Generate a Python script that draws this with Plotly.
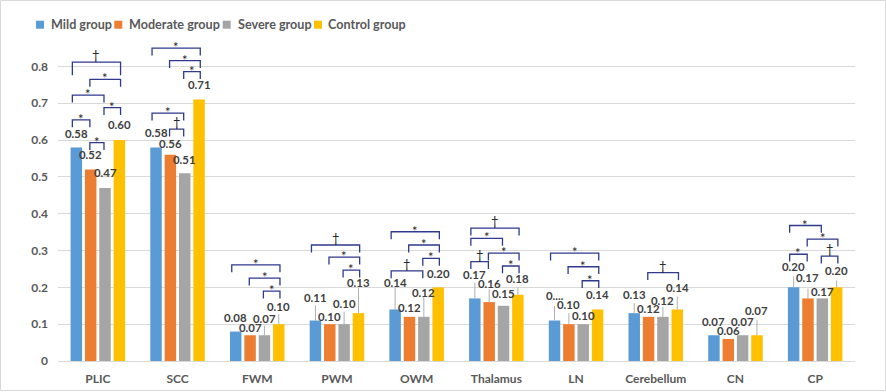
import plotly.graph_objects as go

# ---------------- data ----------------
categories = ["PLIC", "SCC", "FWM", "PWM", "OWM", "Thalamus", "LN", "Cerebellum", "CN", "CP"]
series_names = ["Mild group", "Moderate group", "Severe group", "Control group"]

mild = [0.58, 0.58, 0.08, 0.11, 0.14, 0.17, 0.11, 0.13, 0.07, 0.20]
moderate = [0.52, 0.56, 0.07, 0.10, 0.12, 0.16, 0.10, 0.12, 0.06, 0.17]
severe = [0.47, 0.51, 0.07, 0.10, 0.12, 0.15, 0.10, 0.12, 0.07, 0.17]
control = [0.60, 0.71, 0.10, 0.13, 0.20, 0.18, 0.14, 0.14, 0.07, 0.20]

# upper error bars (visible part)
mild_err = [0, 0, 0, 0.041, 0.060, 0.043, 0.039, 0.027, 0, 0.030]
moderate_err = [0, 0, 0, 0, 0, 0.035, 0.030, 0, 0, 0.027]
severe_err = [0, 0, 0.026, 0.034, 0.054, 0, 0, 0.027, 0, 0]
control_err = [0, 0, 0.027, 0.068, 0, 0.019, 0, 0.035, 0.041, 0.019]

y_tick_values = [0, 0.1, 0.2, 0.3, 0.4, 0.5, 0.6, 0.7, 0.8]
y_tick_labels = ["0", "0.1", "0.2", "0.3", "0.4", "0.5", "0.6", "0.7", "0.8"]

# label text overrides (category index, series index) -> text
label_overrides = {(6, 0): "0...."}

# significance brackets: (category index, series a, series b, level, symbol)
brackets = [
    (0, 0, 3, 0.812, "†"), (0, 1, 3, 0.765, "*"), (0, 0, 2, 0.722, "*"),
    (0, 2, 3, 0.688, "*"), (0, 0, 1, 0.655, "*"), (0, 1, 2, 0.593, "*"),
    (1, 0, 3, 0.850, "*"), (1, 1, 3, 0.816, "*"), (1, 2, 3, 0.786, "*"),
    (1, 0, 2, 0.673, "*"), (1, 1, 2, 0.630, "†"),
    (2, 0, 3, 0.261, "*"), (2, 1, 3, 0.225, "*"), (2, 2, 3, 0.190, "*"),
    (3, 0, 3, 0.315, "†"), (3, 1, 3, 0.282, "*"), (3, 2, 3, 0.247, "*"),
    (4, 0, 3, 0.351, "*"), (4, 1, 3, 0.315, "*"), (4, 2, 3, 0.279, "*"),
    (4, 0, 2, 0.245, "†"),
    (5, 0, 3, 0.361, "†"), (5, 0, 2, 0.333, "*"), (5, 1, 3, 0.293, "*"),
    (5, 0, 1, 0.270, "†"), (5, 2, 3, 0.258, "*"),
    (6, 0, 3, 0.293, "*"), (6, 1, 3, 0.256, "*"), (6, 2, 3, 0.218, "*"),
    (7, 1, 3, 0.240, "†"),
    (9, 0, 2, 0.368, "*"), (9, 1, 3, 0.331, "*"), (9, 0, 1, 0.290, "*"),
    (9, 2, 3, 0.285, "†"),
]

# ---------------- style / layout ----------------
colors = ["#5b9bd5", "#ed7d31", "#a5a5a5", "#ffc000"]
FONT = "Lato"
BARGAP = 0.28
BARGROUPGAP = 0.2
# vertical pixel lift of each value label above its bar (manually placed in original)
label_lift = [
    [14.3, 15.0, 14.3, 22.8, 26.8, 24.4, 25.5, 18.9, 14.2, 20.7],
    [14.6, 11.6, 7.9, 7.5, 9.5, 18.8, 19.2, 8.5, 8.9, 20.7],
    [15.3, 14.0, 17.0, 21.0, 24.5, 11.8, 8.5, 16.8, 14.2, 7.4],
    [15.2, 14.7, 17.5, 30.5, 14.1, 16.5, 14.5, 22.2, 25.2, 16.4],
]
# bracket end offsets (in category units) for each series
bracket_ends = [-0.32, -0.10, 0.077, 0.285]
BRACKET_LEG = 0.02

values = [mild, moderate, severe, control]
errors = [mild_err, moderate_err, severe_err, control_err]
x_idx = list(range(len(categories)))

fig = go.Figure()
for j in range(4):
    fig.add_trace(go.Bar(
        x=x_idx, y=values[j], name=series_names[j],
        marker=dict(color=colors[j], line=dict(width=0)),
        error_y=dict(type="data", array=errors[j], symmetric=False,
                     arrayminus=[0] * len(categories),
                     color="#b0b0b0", thickness=1, width=0),
        showlegend=False, hoverinfo="skip",
    ))

# bar centre offsets derived from the group geometry
slot = (1 - BARGAP) / 4
centers = [-(1 - BARGAP) / 2 + slot * (j + 0.5) for j in range(4)]

annotations = []
for j in range(4):
    for i, v in enumerate(values[j]):
        txt = label_overrides.get((i, j), f"{v:.2f}")
        annotations.append(dict(
            x=i + centers[j], y=v, xref="x", yref="y", text=txt,
            showarrow=False, yanchor="middle", xanchor="center",
            yshift=label_lift[j][i],
            font=dict(family=FONT, size=11.4, color="#404040", weight="bold"),
        ))

shapes = []
for (c, a, b, lvl, sym) in brackets:
    leg = 0.036 if (c == 0 and a == 0 and b == 3) else BRACKET_LEG
    x0 = c + bracket_ends[a]
    x1 = c + bracket_ends[b]
    shapes.append(dict(
        type="path", xref="x", yref="y",
        path=f"M {x0},{lvl - leg} L {x0},{lvl} L {x1},{lvl} L {x1},{lvl - leg}",
        line=dict(color="#2e3a8c", width=1.3),
    ))
    annotations.append(dict(
        x=(x0 + x1) / 2, y=lvl, xref="x", yref="y", text=sym,
        showarrow=False, yanchor="middle", xanchor="center",
        yshift=(1 if sym == "*" else 7),
        font=dict(family=FONT, size=13, color="#262626"),
    ))

# ---- geometry for paper-referenced decorations ----
W, H = 886, 392
L, R, T, B = 58, 31, 37, 31
pw, ph = W - L - R, H - T - B


def px_to_paper_x(px):
    return (px - L) / pw


def px_to_paper_y(py):
    return (H - B - py) / ph


# outer frame
shapes.append(dict(
    type="rect", xref="paper", yref="paper",
    x0=px_to_paper_x(0.5), x1=px_to_paper_x(885.5),
    y0=px_to_paper_y(390.5), y1=px_to_paper_y(0.5),
    line=dict(color="#d9d9d9", width=1), fillcolor="rgba(0,0,0,0)",
))

# legend (manual, to match compact office-style legend)
legend_square_x = [36, 114.3, 222.7, 314]
legend_text_x = [49.3, 127.3, 235.7, 326]
legend_y = 24.7
for j in range(4):
    shapes.append(dict(
        type="rect", xref="paper", yref="paper",
        x0=px_to_paper_x(legend_square_x[j]), x1=px_to_paper_x(legend_square_x[j] + 8),
        y0=px_to_paper_y(legend_y + 4), y1=px_to_paper_y(legend_y - 4),
        line=dict(width=0), fillcolor=colors[j],
    ))
    annotations.append(dict(
        x=px_to_paper_x(legend_text_x[j]), y=px_to_paper_y(legend_y),
        xref="paper", yref="paper", text=series_names[j], showarrow=False,
        xanchor="left", yanchor="middle",
        font=dict(family=FONT, size=12.6, color="#595959", weight="bold"),
    ))

fig.update_layout(
    width=W, height=H,
    margin=dict(l=L, r=R, t=T, b=B, pad=0, autoexpand=False),
    paper_bgcolor="white", plot_bgcolor="white",
    barmode="group", bargap=BARGAP, bargroupgap=BARGROUPGAP,
    showlegend=False, hovermode=False,
    annotations=annotations, shapes=shapes,
    xaxis=dict(
        tickmode="array", tickvals=x_idx, ticktext=categories,
        range=[-0.5, len(categories) - 0.5], automargin=False,
        showgrid=False, zeroline=False, showline=True, linecolor="#d9d9d9",
        linewidth=1, ticks="", ticklabelstandoff=7,
        tickfont=dict(family=FONT, size=12, color="#595959", weight="bold"),
    ),
    yaxis=dict(
        range=[0, 0.88], tickmode="array", tickvals=y_tick_values, automargin=False,
        ticktext=y_tick_labels, showgrid=True, gridcolor="#d9d9d9", gridwidth=1,
        zeroline=False, showline=False, ticks="", ticklabelstandoff=9,
        tickfont=dict(family=FONT, size=12, color="#595959", weight="bold"),
    ),
)

fig.write_html(
    "out.html",
    config={"displayModeBar": False},
    post_script="document.body.style.margin='0px';",
)
